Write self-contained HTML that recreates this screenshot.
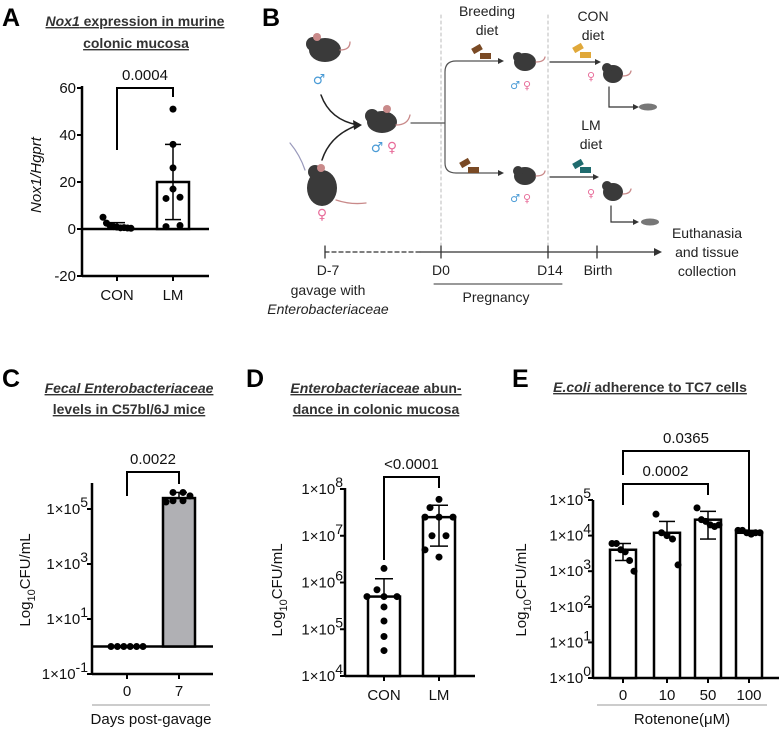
<!DOCTYPE html>
<html><head><meta charset="utf-8">
<style>
html,body{margin:0;padding:0;background:#fff;}
svg{display:block;font-family:"Liberation Sans",Arial,sans-serif;}
.t{font-size:14px;fill:#111;}
.ttl{font-size:14px;font-weight:bold;fill:#333;}
.lt{font-size:25px;font-weight:bold;fill:#000;}
.bt{font-size:14px;fill:#222;}
</style></head>
<body>
<svg id="fig" width="779" height="730" viewBox="0 0 779 730" xmlns="http://www.w3.org/2000/svg">
<text class="lt" x="2" y="26">A</text>
<text class="lt" x="262" y="26">B</text>
<text class="lt" x="2" y="387">C</text>
<text class="lt" x="246" y="387">D</text>
<text class="lt" x="512" y="387">E</text>

<g>
<text class="ttl" x="135" y="26" text-anchor="middle" text-decoration="underline"><tspan font-style="italic">Nox1</tspan> expression in murine</text>
<text class="ttl" x="136" y="48" text-anchor="middle" text-decoration="underline"> colonic mucosa</text>
</g>
<g>
<text class="ttl" x="129" y="393" text-anchor="middle" text-decoration="underline" font-style="italic">Fecal Enterobacteriaceae</text>
<text class="ttl" x="129" y="414" text-anchor="middle" text-decoration="underline">levels in C57bl/6J mice</text>
</g>
<g>
<text class="ttl" x="376" y="393" text-anchor="middle" text-decoration="underline"><tspan font-style="italic">Enterobacteriaceae</tspan> abun-</text>
<text class="ttl" x="376" y="414" text-anchor="middle" text-decoration="underline">dance in colonic mucosa</text>
</g>
<g>
<text class="ttl" x="650" y="392" text-anchor="middle" text-decoration="underline"><tspan font-style="italic">E.coli</tspan> adherence to TC7 cells </text>
</g>

<g id="panelB" stroke-linecap="round">
<line x1="441" y1="15" x2="441" y2="248" stroke="#bbb" stroke-dasharray="3,3"/>
<line x1="548" y1="15" x2="548" y2="248" stroke="#bbb" stroke-dasharray="3,3"/>
<line x1="325" y1="252" x2="420" y2="252" stroke="#333" stroke-width="1.3" stroke-dasharray="4,3"/>
<line x1="420" y1="252" x2="656" y2="252" stroke="#333" stroke-width="1.3"/>
<polygon points="662,252 654,248 654,256" fill="#333"/>
<line x1="325" y1="246" x2="325" y2="258" stroke="#333" stroke-width="1.3"/>
<line x1="441" y1="246" x2="441" y2="258" stroke="#333" stroke-width="1.3"/>
<line x1="548" y1="246" x2="548" y2="258" stroke="#333" stroke-width="1.3"/>
<line x1="597" y1="246" x2="597" y2="258" stroke="#333" stroke-width="1.3"/>
<text class="bt" x="328" y="275" text-anchor="middle">D-7</text>
<text class="bt" x="328" y="295" text-anchor="middle">gavage with</text>
<text class="bt" x="328" y="314" text-anchor="middle" font-style="italic">Enterobacteriaceae</text>
<text class="bt" x="441" y="275" text-anchor="middle">D0</text>
<text class="bt" x="550" y="275" text-anchor="middle">D14</text>
<text class="bt" x="598" y="275" text-anchor="middle">Birth</text>
<line x1="434" y1="284" x2="562" y2="284" stroke="#333"/>
<text class="bt" x="496" y="302" text-anchor="middle">Pregnancy</text>
<text class="bt" x="707" y="238" text-anchor="middle">Euthanasia</text>
<text class="bt" x="707" y="257" text-anchor="middle">and tissue</text>
<text class="bt" x="707" y="276" text-anchor="middle">collection</text>
<text class="bt" x="487" y="16" text-anchor="middle">Breeding</text>
<text class="bt" x="487" y="35" text-anchor="middle">diet</text>
<text class="bt" x="593" y="21" text-anchor="middle">CON</text>
<text class="bt" x="593" y="40" text-anchor="middle">diet</text>
<text class="bt" x="591" y="130" text-anchor="middle">LM</text>
<text class="bt" x="591" y="149" text-anchor="middle">diet</text>
<path d="M321,95 Q330,120 358,125" fill="none" stroke="#222" stroke-width="1.5"/>
<path d="M322,160 Q330,135 358,125" fill="none" stroke="#222" stroke-width="1.5"/>
<polygon points="362,125 353,120 354,130" fill="#222"/>
<path d="M411,123 L445,123 M445,123 L445,72 Q445,61 456,61 L500,61 M445,123 L445,163 Q445,173 456,173 L500,173" fill="none" stroke="#555" stroke-width="1.2"/>
<polygon points="504,61 498,58 498,64" fill="#333"/>
<polygon points="504,173 498,170 498,176" fill="#333"/>
<line x1="550" y1="62" x2="598" y2="62" stroke="#333" stroke-width="1.2"/><polygon points="601,62 595,59 595,65" fill="#333"/>
<line x1="550" y1="177" x2="596" y2="177" stroke="#333" stroke-width="1.2"/><polygon points="599,177 593,174 593,180" fill="#333"/>
<path d="M609,87 L609,107 L636,107" fill="none" stroke="#333" stroke-width="1.2"/><polygon points="639,107 633,104 633,110" fill="#333"/>
<path d="M611,206 L611,222 L636,222" fill="none" stroke="#333" stroke-width="1.2"/><polygon points="639,222 633,219 633,225" fill="#333"/>
<rect x="472" y="46" width="10" height="6" fill="#7a4a25" transform="rotate(-30 477 49)"/><rect x="480" y="53" width="11" height="6" fill="#7a4a25"/>
<rect x="460" y="160" width="10" height="6" fill="#7a4a25" transform="rotate(-30 465 163)"/><rect x="468" y="167" width="11" height="6" fill="#7a4a25"/>
<rect x="573" y="45" width="10" height="6" fill="#e0a83a" transform="rotate(-30 578 48)"/><rect x="580" y="52" width="11" height="6" fill="#e0a83a"/>
<rect x="573" y="161" width="10" height="6" fill="#1f6b6e" transform="rotate(-30 578 164)"/><rect x="580" y="167" width="11" height="6" fill="#1f6b6e"/>
<g fill="#3a3a3a">
<ellipse cx="325" cy="50" rx="16" ry="12"/><circle cx="313" cy="44" r="7"/><circle cx="317" cy="37" r="4" fill="#c98a8a"/>
<ellipse cx="322" cy="188" rx="15" ry="18"/><circle cx="315" cy="172" r="7"/><circle cx="321" cy="168" r="4" fill="#c98a8a"/>
<ellipse cx="382" cy="122" rx="15" ry="11"/><circle cx="372" cy="116" r="7"/><circle cx="387" cy="109" r="4" fill="#c98a8a"/>
<ellipse cx="525" cy="62" rx="11" ry="9"/><circle cx="518" cy="57" r="5"/>
<ellipse cx="525" cy="176" rx="11" ry="9"/><circle cx="518" cy="171" r="5"/>
<ellipse cx="613" cy="74" rx="10" ry="9"/><circle cx="607" cy="68" r="5"/>
<ellipse cx="613" cy="192" rx="10" ry="9"/><circle cx="607" cy="186" r="5"/>
<ellipse cx="648" cy="107" rx="9" ry="3.5" fill="#777"/>
<ellipse cx="650" cy="222" rx="9" ry="3.5" fill="#777"/>
</g>
<g fill="none" stroke="#c98a8a" stroke-width="1.3">
<path d="M340,50 q10,0 10,-8"/><path d="M336,200 q15,5 30,3"/><path d="M396,125 q12,0 14,-10"/>
<path d="M536,62 q8,0 9,-5"/><path d="M536,176 q8,0 9,-5"/><path d="M623,76 q7,0 8,-5"/><path d="M623,194 q7,0 8,-5"/>
</g>
<path d="M290,143 Q300,155 305,170" fill="none" stroke="#99b" stroke-width="1.2"/>
<g font-size="14" font-family="DejaVu Sans,sans-serif">
<text x="319" y="84" fill="#4a9bd6" text-anchor="middle">♂</text>
<text x="322" y="219" fill="#e86d9a" text-anchor="middle">♀</text>
<text x="377" y="152" fill="#4a9bd6" text-anchor="middle">♂</text><text x="392" y="152" fill="#e86d9a" text-anchor="middle">♀</text>
<text x="515" y="89" fill="#4a9bd6" text-anchor="middle" font-size="11">♂</text><text x="527" y="89" fill="#e86d9a" text-anchor="middle" font-size="11">♀</text>
<text x="515" y="202" fill="#4a9bd6" text-anchor="middle" font-size="11">♂</text><text x="527" y="202" fill="#e86d9a" text-anchor="middle" font-size="11">♀</text>
<text x="591" y="80" fill="#e86d9a" text-anchor="middle" font-size="11">♀</text>
<text x="591" y="197" fill="#e86d9a" text-anchor="middle" font-size="11">♀</text>
</g>
</g>

<g id="plots"></g>
</svg>
<script>
const aCategories = ["CON", "LM"];
const aMeans = [1.5, 20];
const aErrLow = [0.3, 4];
const aErrHigh = [2.7, 36];
const aConPoints = [5, 2.5, 1.5, 1, 0.8, 0.5, 0.6, 0.4, 0.3];
const aLmPoints = [51, 36, 26, 17, 13, 13.5, 1, 1.5];
const aTicks = [60, 40, 20, 0, -20];
const aPval = "0.0004";
const cCategories = ["0", "7"];
const cMeans = [1, 250000];
const cErrHigh = [1, 400000];
const cDay0Points = [1, 1, 1, 1, 1, 1];
const cDay7Points = [400000, 400000, 180000, 200000, 200000, 300000];
const cTickExp = [5, 3, 1, -1];
const cPval = "0.0022";
const dCategories = ["CON", "LM"];
const dMeans = [500000, 25000000];
const dErrLow = [500000, 6000000];
const dErrHigh = [1200000, 45000000];
const dConPoints = [2000000, 700000, 500000, 500000, 500000, 300000, 150000, 70000, 35000];
const dLmPoints = [60000000, 40000000, 25000000, 25000000, 25000000, 10000000, 10000000, 5000000, 3500000];
const dTickExp = [8, 7, 6, 5, 4];
const dPval = "<0.0001";
const eCategories = ["0", "10", "50", "100"];
const eMeans = [4000, 12000, 28000, 12000];
const eErrLow = [2000, 12000, 8000, 12000];
const eErrHigh = [6000, 25000, 48000, 14000];
const ePoints = [
  [6000, 6000, 4000, 3500, 2000, 1000],
  [40000, 12000, 10000, 8000, 1500],
  [60000, 28000, 25000, 20000, 18000, 20000],
  [14000, 14000, 12000, 11000, 12000, 12000]
];
const eTickExp = [5, 4, 3, 2, 1, 0];
const ePvals = ["0.0365", "0.0002"];

const NS = "http://www.w3.org/2000/svg";
const root = document.getElementById("plots");
function mk(tag, attrs, parent, txt) {
  const e = document.createElementNS(NS, tag);
  for (const k in attrs) e.setAttribute(k, attrs[k]);
  if (txt !== undefined) e.textContent = txt;
  (parent || root).appendChild(e);
  return e;
}
function line(x1, y1, x2, y2, w, p) { return mk("line", {x1, y1, x2, y2, stroke: "#000", "stroke-width": w || 2.5}, p); }
function txt(x, y, s, p, anchor, extra) {
  return mk("text", Object.assign({x, y, "font-size": 15, fill: "#111", "text-anchor": anchor || "middle"}, extra || {}), p, s);
}
function sciTick(x, y, exp, p) {
  const t = mk("text", {x: x, y: y + 5, "font-size": 15, fill: "#111", "text-anchor": "end"}, p);
  const a = document.createElementNS(NS, "tspan"); a.textContent = "1×10"; t.appendChild(a);
  const b = document.createElementNS(NS, "tspan"); b.setAttribute("dy", "-7"); b.setAttribute("font-size", "14"); b.textContent = String(exp); t.appendChild(b);
  
  
}
function dot(x, y, p) {
  const c = mk("circle", {cx: x, cy: y, r: 3.5, fill: "#000"}, p);
  
  
}
function spread(n, cx, w) { const out = []; for (let i = 0; i < n; i++) out.push(n === 1 ? cx : cx - w / 2 + w * i / (n - 1)); return out; }
function errBar(x, y1, y2, cap, p) { line(x, y1, x, y2, 1.5, p); line(x - cap, y1, x + cap, y1, 1.5, p); line(x - cap, y2, x + cap, y2, 1.5, p); }
function bracket(x1, x2, yTop, y1b, y2b, label, p) {
  const g = mk("g", {}, p);
  
  
  mk("path", {d: `M${x1},${y1b} L${x1},${yTop} L${x2},${yTop} L${x2},${y2b}`, fill: "none", stroke: "#000", "stroke-width": 2}, g);
  txt((x1 + x2) / 2, yTop - 8, label, g);
}
function yTitle(x, y, p, italicText) {
  const t = mk("text", {x: 0, y: 0, "font-size": 15, fill: "#111", "text-anchor": "middle", transform: `translate(${x},${y}) rotate(-90)`}, p);
  if (italicText) { t.setAttribute("font-style", "italic"); t.textContent = italicText; }
  else {
    const a = document.createElementNS(NS, "tspan"); a.textContent = "Log"; t.appendChild(a);
    const b = document.createElementNS(NS, "tspan"); b.setAttribute("dy", "5"); b.setAttribute("font-size", "11"); b.textContent = "10"; t.appendChild(b);
    const c = document.createElementNS(NS, "tspan"); c.setAttribute("dy", "-5"); c.textContent = "CFU/mL"; t.appendChild(c);
  }
  
  
}

(function () {
  const g = mk("g", {});
  
  
  const ax = 82, yA = v => 229 - v * 47 / 20;
  const xA = [117, 173];
  line(ax, 86, ax, 277, 2.5, g);
  aTicks.forEach(t => { line(ax - 5, yA(t), ax, yA(t), 2, g); txt(ax - 6, yA(t) + 5, String(t), g, "end"); });
  line(ax, yA(0), 209, yA(0), 2.5, g);
  line(ax, yA(-20), 209, yA(-20), 2.5, g);
  xA.forEach((x, i) => { line(x, yA(-20), x, yA(-20) + 5, 2, g); const l = txt(x, 300, aCategories[i], g);
    
     });
  aMeans.forEach((m, i) => {
    if (i === 1) {
      const r = mk("rect", {x: xA[i] - 16, y: yA(m), width: 32, height: yA(0) - yA(m), fill: "#fff", stroke: "#000", "stroke-width": 2.5}, g);
      
      
    }
    errBar(xA[i], yA(aErrHigh[i]), yA(aErrLow[i]), 8, g);
  });
  spread(aConPoints.length, xA[0], 28).forEach((x, i) => dot(x, yA(aConPoints[i]), g));
  const lmx = [173, 173, 173, 173, 166, 180, 166, 180];
  aLmPoints.forEach((v, i) => dot(lmx[i], yA(v), g));
  bracket(xA[0], xA[1], 88, 150, 97, aPval, g);
  yTitle(41, 175, g, "Nox1/Hgprt");
})();

(function () {
  const g = mk("g", {});
  
  
  const ax = 92, yC = v => 674 - (Math.log10(v) + 1) * 27.5;
  const xC = [127, 179];
  line(ax, 483, ax, 675, 2.5, g);
  cTickExp.forEach(e => { line(ax - 5, yC(Math.pow(10, e)), ax, yC(Math.pow(10, e)), 2, g); sciTick(ax - 4, yC(Math.pow(10, e)), e, g); });
  line(ax, yC(1), 213, yC(1), 2.5, g);
  line(ax, 674, 213, 674, 2.5, g);
  xC.forEach((x, i) => { line(x, 674, x, 679, 2, g); const l = txt(x, 696, cCategories[i], g);
    
     });
  const r = mk("rect", {x: xC[1] - 16, y: yC(cMeans[1]), width: 32, height: yC(1) - yC(cMeans[1]), fill: "#b0b0b4", stroke: "#000", "stroke-width": 2.5}, g);
  
  
  line(xC[1] - 8, yC(cErrHigh[1]), xC[1] + 8, yC(cErrHigh[1]), 1.5, g);
  line(xC[1], yC(cErrHigh[1]), xC[1], yC(cMeans[1]), 1.5, g);
  spread(cDay0Points.length, xC[0], 32).forEach((x, i) => dot(x, yC(cDay0Points[i]), g));
  const d7x = [173, 183, 166, 173, 183, 190];
  cDay7Points.forEach((v, i) => dot(d7x[i], yC(v), g));
  bracket(xC[0], xC[1], 472, 496, 484, cPval, g);
  line(92, 705, 210, 705, 1, g).setAttribute("stroke", "#999");
  txt(151, 724, "Days post-gavage", g);
  yTitle(30, 580, g);
})();

(function () {
  const g = mk("g", {});
  
  
  const ax = 345, yD = v => 676 - (Math.log10(v) - 4) * 46.75;
  const xD = [384, 439];
  line(ax, 488, ax, 677, 2.5, g);
  dTickExp.forEach(e => { line(ax - 5, yD(Math.pow(10, e)), ax, yD(Math.pow(10, e)), 2, g); sciTick(ax - 2, yD(Math.pow(10, e)), e, g); });
  line(ax, 676, 475, 676, 2.5, g);
  xD.forEach((x, i) => { line(x, 676, x, 681, 2, g); const l = txt(x, 700, dCategories[i], g);
    
     });
  dMeans.forEach((m, i) => {
    const r = mk("rect", {x: xD[i] - 16, y: yD(m), width: 32, height: 676 - yD(m), fill: "#fff", stroke: "#000", "stroke-width": 2.5}, g);
    
    
  });
  errBar(xD[0], yD(dErrHigh[0]), yD(dErrLow[0]), 9, g);
  errBar(xD[1], yD(dErrHigh[1]), yD(dErrLow[1]), 9, g);
  const cx = [384, 377, 367, 384, 397, 384, 384, 384, 384];
  dConPoints.forEach((v, i) => dot(cx[i], yD(v), g));
  const lx = [439, 430, 425, 439, 453, 432, 446, 425, 439];
  dLmPoints.forEach((v, i) => dot(lx[i], yD(v), g));
  bracket(xD[0], xD[1], 477, 560, 488, dPval, g);
  yTitle(282, 590, g);
})();

(function () {
  const g = mk("g", {});
  
  
  const ax = 593, yE = v => 678 - Math.log10(v) * 35.6;
  const xE = [623, 667, 708, 749];
  line(ax, 500, ax, 679, 2.5, g);
  eTickExp.forEach(e => { line(ax - 5, yE(Math.pow(10, e)), ax, yE(Math.pow(10, e)), 2, g); sciTick(ax - 2, yE(Math.pow(10, e)), e, g); });
  line(ax, 678, 779, 678, 2.5, g);
  xE.forEach((x, i) => { line(x, 678, x, 683, 2, g); const l = txt(x, 700, eCategories[i], g);
    
     });
  eMeans.forEach((m, i) => {
    const r = mk("rect", {x: xE[i] - 13, y: yE(m), width: 26, height: 678 - yE(m), fill: "#fff", stroke: "#000", "stroke-width": 2.5}, g);
    
    
    errBar(xE[i], yE(eErrHigh[i]), yE(eErrLow[i]), 8, g);
  });
  ePoints.forEach((pts, i) => {
    spread(pts.length, xE[i], 22).forEach((x, j) => dot(x, yE(pts[j]), g));
  });
  bracket(xE[0], xE[3], 451, 475, 530, ePvals[0], g);
  bracket(xE[0], xE[2], 484, 505, 495, ePvals[1], g);
  line(597, 705, 767, 705, 1, g).setAttribute("stroke", "#999");
  txt(682, 724, "Rotenone(μM)", g);
  yTitle(526, 590, g);
})();
</script>
</body></html>
